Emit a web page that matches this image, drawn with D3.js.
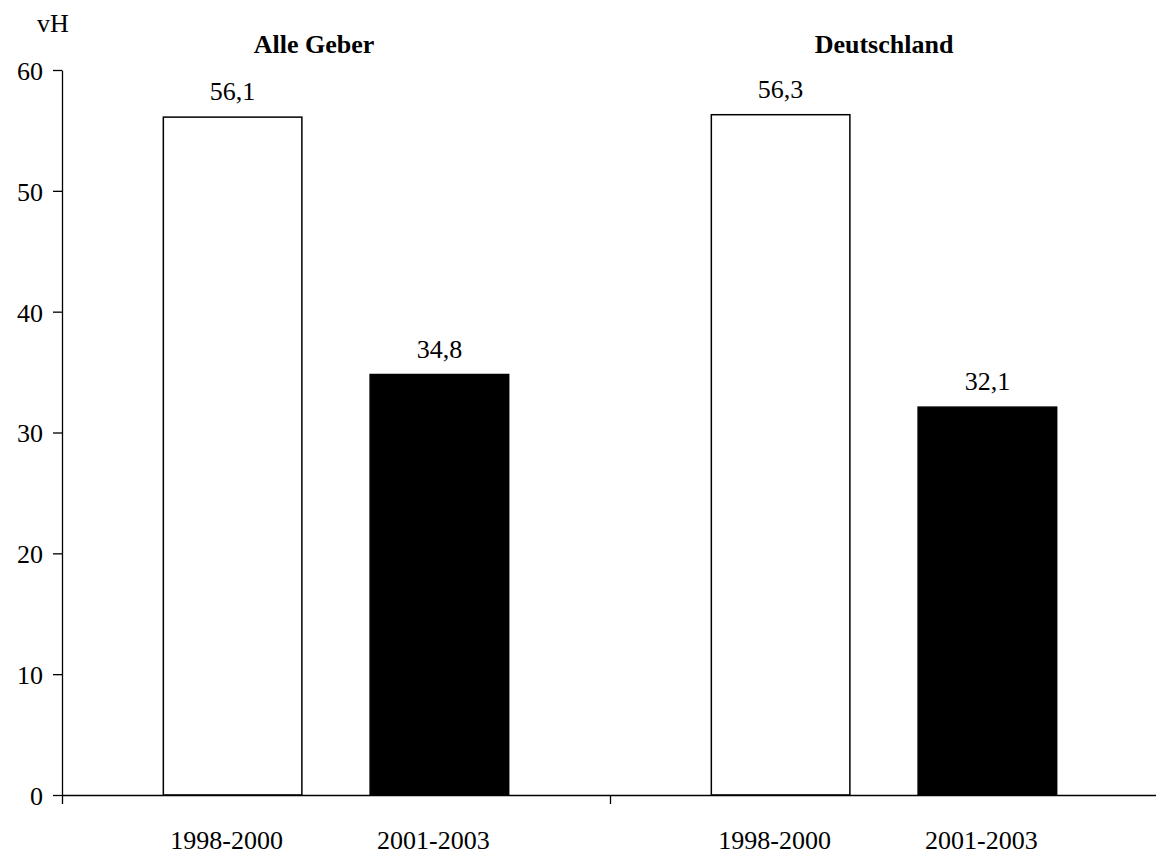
<!DOCTYPE html>
<html>
<head>
<meta charset="utf-8">
<script src="https://cdn.jsdelivr.net/npm/d3@7"></script>
<style>
  body { margin: 0; background: #fff; }
  svg { display: block; font-family: "Liberation Serif", "Times New Roman", serif; }
  .axis path, .axis line { stroke: #000; stroke-width: 1.3; }
  .axis text { font-size: 26px; fill: #000; font-family: "Liberation Serif", serif; }
</style>
</head>
<body>
<svg></svg>
<script>
const groups = ["Alle Geber", "Deutschland"];
const periods = ["1998-2000", "2001-2003"];
const values = [
  [56.1, 34.8],
  [56.3, 32.1],
];
const yTicks = [0, 10, 20, 30, 40, 50, 60];

const size = { w: 1156, h: 854 };
const margin = { t: 70, r: -2, b: 59, l: 62 };
const innerW = size.w - margin.l - margin.r;
const innerH = size.h - margin.t - margin.b;

const svg = d3.select("svg").attr("width", size.w).attr("height", size.h);
const g = svg.append("g").attr("transform", `translate(${margin.l},${margin.t})`);

const y = d3.scaleLinear().domain([0, 60]).range([innerH, 0]);
const x0 = d3.scaleBand().domain(groups).range([0, innerW]).padding(0);
const x1 = d3.scaleBand().domain(periods).range([0, x0.bandwidth()])
  .paddingInner(0.33).paddingOuter(0.49);
const fill = d3.scaleOrdinal().domain(periods).range(["#fff", "#000"]);

// y axis
g.append("g").classed("axis", true)
  .call(d3.axisLeft(y).tickValues(yTicks).tickSize(9).tickSizeOuter(0).tickPadding(10))
  .call((a) => a.selectAll("text").attr("dy", "0.36em"));

// bars
const groupG = g.selectAll("g.group")
  .data(groups)
  .join("g")
  .classed("group", true)
  .attr("transform", (d) => `translate(${x0(d)},0)`);

groupG.selectAll("rect")
  .data((d, i) => periods.map((p, j) => ({ p, v: values[i][j] })))
  .join("rect")
  .attr("x", (d) => x1(d.p))
  .attr("y", (d) => y(d.v))
  .attr("width", x1.bandwidth())
  .attr("height", (d) => innerH - y(d.v))
  .attr("fill", (d) => fill(d.p))
  .attr("stroke", "#000")
  .attr("stroke-width", 1.5);

// value labels
groupG.selectAll("text.val")
  .data((d, i) => periods.map((p, j) => ({ p, v: values[i][j] })))
  .join("text")
  .classed("val", true)
  .attr("x", (d) => x1(d.p) + x1.bandwidth() / 2)
  .attr("y", (d) => y(d.v) - 17)
  .attr("text-anchor", "middle")
  .style("font-size", "26px")
  .text((d) => d3.format(".1f")(d.v).replace(".", ","));

// period labels under the axis
groupG.selectAll("text.per")
  .data(periods)
  .join("text")
  .classed("per", true)
  .attr("x", (d) => x1(d) + x1.bandwidth() / 2 - 6)
  .attr("y", innerH + 54)
  .attr("text-anchor", "middle")
  .style("font-size", "26px")
  .text((d) => d);

// group titles
const titleShift = [-22, 0];
groupG.append("text")
  .attr("x", (d, i) => x0.bandwidth() / 2 + titleShift[i])
  .attr("y", -17)
  .attr("text-anchor", "middle")
  .style("font-size", "26px")
  .style("font-weight", "bold")
  .text((d) => d);

// x axis: baseline with ticks at group borders
const xb = d3.scaleLinear().domain([0, groups.length]).range([0, innerW]);
g.append("g").classed("axis", true)
  .attr("transform", `translate(0,${innerH})`)
  .call(d3.axisBottom(xb).tickValues(d3.range(groups.length + 1)).tickFormat("").tickSize(9).tickSizeOuter(0));

// unit label
svg.append("text")
  .attr("x", 37)
  .attr("y", 32)
  .style("font-size", "26px")
  .text("vH");
</script>
</body>
</html>
